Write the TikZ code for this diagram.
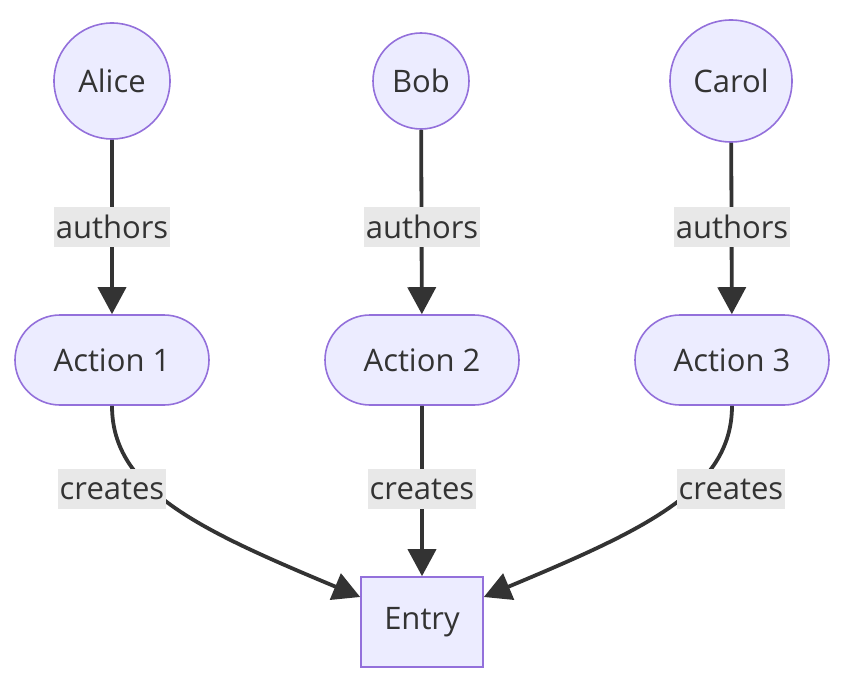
\documentclass[tikz,border=0pt]{standalone}
\usepackage{fontspec}
\setmainfont{Open Sans}
\usetikzlibrary{arrows.meta,shapes.misc}
\definecolor{nodefill}{HTML}{ECECFF}
\definecolor{nodeline}{HTML}{9370DB}
\definecolor{ink}{HTML}{333333}
\definecolor{lblbg}{HTML}{E8E8E8}
\tikzset{
  base/.style={draw=nodeline, fill=nodefill, line width=1.6pt, text=ink, font=\fontsize{31}{34}\selectfont, inner sep=0pt},
  person/.style={base, circle},
  action/.style={base, rounded rectangle, minimum width=194pt, minimum height=90pt},
  entrybox/.style={base, rectangle, minimum width=122pt, minimum height=90pt},
  edge/.style={draw=ink, line width=3.8pt, -{Triangle[length=27pt,width=28pt]}},
  lbl/.style={fill=lblbg, text=ink, font=\fontsize{31}{34}\selectfont, inner xsep=1.5pt, inner ysep=0pt, minimum height=40pt}
}
\begin{document}
\begin{tikzpicture}[x=1pt,y=-1pt]
\useasboundingbox (0,0) rectangle (846,690);
\node[person, minimum size=116pt] (alice) at (112,81) {Alice};
\node[person, minimum size=96pt] (bob) at (421,81) {Bob};
\node[person, minimum size=122pt] (carol) at (731,81) {Carol};
\node[action] (a1) at (112,360) {Action 1};
\node[action] (a2) at (422,360) {Action 2};
\node[action] (a3) at (732,360) {Action 3};
\node[entrybox] (entry) at (422,622) {Entry};
\draw[edge] (alice) -- (a1);
\draw[edge] (bob) -- (a2);
\draw[edge] (carol) -- (a3);
\draw[edge] (a2) -- (entry);
\draw[edge] (a1.south) .. controls (112,490) and (200,530) .. (entry.west |- 0,597);
\draw[edge] (a3.south) .. controls (732,490) and (644,530) .. (entry.east |- 0,597);
\node[lbl] (l1) at (112,227) {authors};
\node[lbl] (l2) at (422,227) {authors};
\node[lbl] (l3) at (732,227) {authors};
\node[lbl] (l4) at (112,489) {creates};
\node[lbl] (l5) at (422,489) {creates};
\node[lbl] (l6) at (731,489) {creates};
\end{tikzpicture}
\end{document}
